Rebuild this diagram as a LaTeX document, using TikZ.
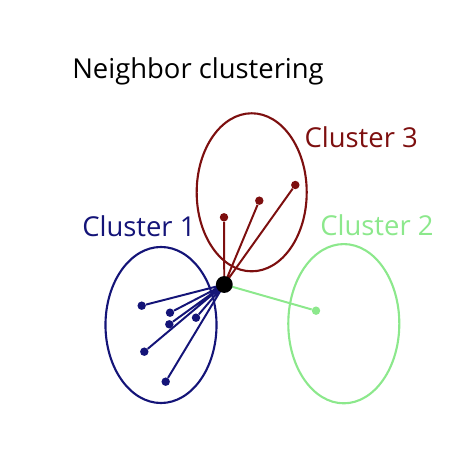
\documentclass[tikz,border=0pt]{standalone}
\usepackage{fontspec}
\setmainfont{Open Sans}
\usetikzlibrary{shapes.geometric}

\definecolor{cluone}{RGB}{20,20,120}
\definecolor{clutwo}{RGB}{140,232,140}
\definecolor{cluthree}{RGB}{125,15,15}

\tikzset{
  clu/.style={draw, ellipse, line width=1.5pt, minimum width=#1},
  dot/.style={circle, fill, inner sep=0pt, minimum size=6pt},
  hubdot/.style={circle, fill=black, inner sep=0pt, minimum size=12pt},
  link/.style={line width=1.4pt},
  lab/.style={anchor=base west, inner sep=0pt, font=\fontsize{19.5}{22}\selectfont}
}

\begin{document}
\begin{tikzpicture}[x=0.025cm, y=-0.025cm, >=latex]
        \useasboundingbox (0,0) rectangle (455,451);
        % ==== TITLE ====
        \node[lab, text=black] (title) at (72,78.3) {Neighbor clustering};
        % ==== CLUSTER OUTLINES ====
        \node[clu=2.775cm, cluone, minimum height=3.9cm] (c1) at (161,325) {};
        \node[clu=2.775cm, clutwo, minimum height=3.98cm] (c2) at (343.8,323.7) {};
        \node[clu=2.75cm, cluthree, minimum height=3.95cm] (c3) at (251.7,192.3) {};
        \node[lab, text=cluone] (l1) at (82,236.7) {Cluster 1};
        \node[lab, text=clutwo] (l2) at (320,235.7) {Cluster 2};
        \node[lab, text=cluthree] (l3) at (304.3,147.3) {Cluster 3};
        % ==== NEIGHBOR POINTS ====
        \node[dot, cluone] (b1) at (141.7,305.7) {};
        \node[dot, cluone] (b2) at (170,312.7) {};
        \node[dot, cluone] (b3) at (169.3,324.3) {};
        \node[dot, cluone] (b4) at (196,317.7) {};
        \node[dot, cluone] (b5) at (144.3,351.7) {};
        \node[dot, cluone] (b6) at (165.7,381.7) {};
        \node[dot, clutwo] (g1) at (316,310.7) {};
        \node[dot, cluthree] (r1) at (224,217.3) {};
        \node[dot, cluthree] (r2) at (259.3,200.7) {};
        \node[dot, cluthree] (r3) at (295.3,185) {};
        % ==== QUERY POINT AND ITS LINKS ====
        \coordinate (q) at (224.3,284.5);
        \draw[link, cluone] (q) -- (b1) (q) -- (b2) (q) -- (b3) (q) -- (b4) (q) -- (b5) (q) -- (b6);
        \draw[link, clutwo] (q) -- (g1);
        \draw[link, cluthree] (q) -- (r1) (q) -- (r2) (q) -- (r3);
        \node[hubdot] (hub) at (q) {};
\end{tikzpicture}
\end{document}
